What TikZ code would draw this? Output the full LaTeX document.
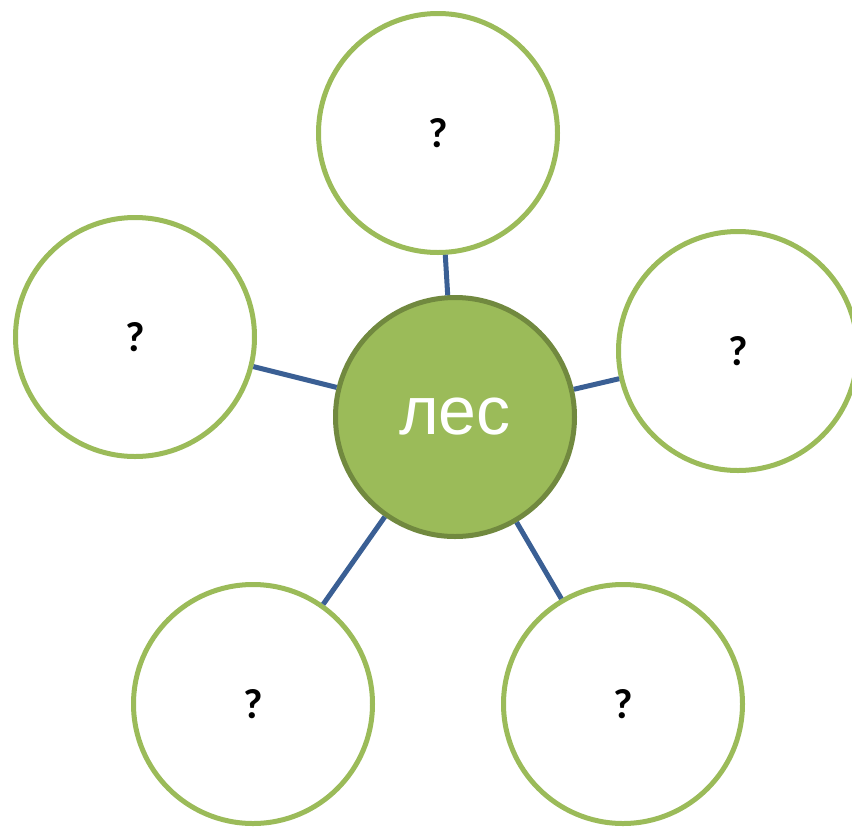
\documentclass[tikz,border=0pt]{standalone}
\usepackage{fontspec}
\newfontfamily\lesfont{Liberation Sans}
\newfontfamily\askfont{Carlito}
\definecolor{leafgreen}{RGB}{155,187,89}
\definecolor{darkleaf}{RGB}{113,137,63}
\definecolor{linkblue}{RGB}{58,95,148}
\begin{document}
\begin{tikzpicture}[x=1pt,y=-1pt]

\tikzstyle{every node}=[transform shape];
\tikzstyle{askcirc}=[circle, draw=leafgreen, line width=5pt, fill=white, minimum size=239pt, inner sep=0pt, font=\askfont\bfseries\fontsize{42}{42}\selectfont];
\tikzstyle{maincirc}=[circle, draw=darkleaf, line width=5pt, fill=leafgreen, minimum size=239pt, inner sep=0pt, text=white, font=\lesfont\fontsize{68}{68}\selectfont];
\tikzstyle{link}=[draw=linkblue, line width=5pt];

\useasboundingbox (0,0) rectangle (852,828);

\node[maincirc] (les) at (455,417) {лес};
\node[askcirc] (top) at (438,133) {?};
\node[askcirc] (left) at (135,337) {?};
\node[askcirc] (right) at (738,351) {?};
\node[askcirc] (botleft) at (253,704) {?};
\node[askcirc] (botright) at (623,704) {?};

\draw[link] (les) -- (top);
\draw[link] (les) -- (left);
\draw[link] (les) -- (right);
\draw[link] (les) -- (botleft);
\draw[link] (les) -- (botright);
\end{tikzpicture}
\end{document}
